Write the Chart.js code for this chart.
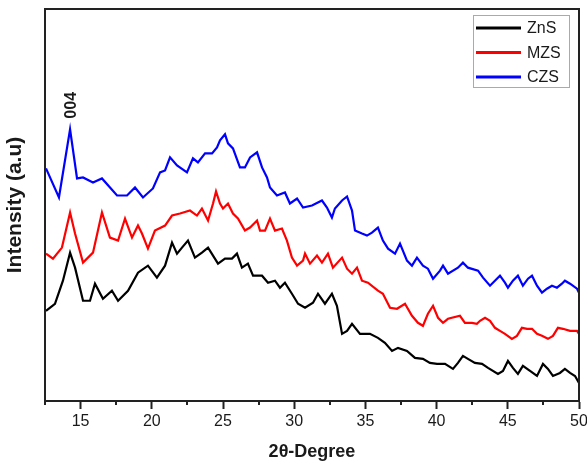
<!DOCTYPE html>
<html>
<head>
<meta charset="utf-8">
<script src="https://cdn.jsdelivr.net/npm/chart.js@4.4.0/dist/chart.umd.min.js"></script>
<style>
  html, body { margin: 0; padding: 0; background: #fff; }
  #wrap { width: 587px; height: 464px; }
</style>
</head>
<body>
<div id="wrap"><canvas id="xrd"></canvas></div>
<script>
// series names / colours
const seriesNames = ['ZnS', 'MZS', 'CZS'];
const seriesColors = ['#000000', '#ff0000', '#0000ff'];
const majorTicks = [15, 20, 25, 30, 35, 40, 45, 50];
const minorTicks = [12.5, 17.5, 22.5, 27.5, 32.5, 37.5, 42.5, 47.5];
const peakLabel = '004';
const peakAngle = 14.26;

// ZnS
const znsAngle = [12.57, 13.20, 13.76, 14.26, 14.61, 15.17, 15.66, 16.01, 16.57, 17.20, 17.63, 18.33, 19.03, 19.73, 20.36, 20.93, 21.42, 21.77, 22.12, 22.54, 23.03, 23.52, 23.95, 24.65, 25.14, 25.63, 25.98, 26.33, 26.75, 27.11, 27.74, 28.16, 28.65, 29.00, 29.35, 29.84, 30.27, 30.76, 31.32, 31.67, 32.16, 32.65, 33.00, 33.36, 33.71, 34.06, 34.62, 35.32, 35.88, 36.37, 36.87, 37.29, 37.92, 38.48, 39.04, 39.53, 40.03, 40.59, 41.15, 41.50, 41.85, 42.20, 42.69, 43.19, 43.61, 44.31, 44.66, 45.01, 45.36, 45.71, 46.06, 46.56, 47.05, 47.47, 47.82, 48.17, 48.66, 49.01, 49.37, 49.72, 50.00];
const znsCounts = [92, 99, 122, 150, 135, 102, 102, 119, 104, 112, 102, 112, 130, 137, 125, 137, 160, 149, 155, 162, 145, 150, 155, 139, 144, 144, 149, 135, 139, 127, 127, 120, 122, 115, 120, 109, 99, 95, 100, 109, 99, 109, 97, 69, 72, 79, 69, 69, 65, 60, 52, 55, 52, 45, 44, 40, 39, 39, 34, 40, 47, 44, 40, 39, 35, 29, 32, 42, 35, 29, 37, 32, 27, 39, 34, 27, 30, 34, 30, 27, 20];

// MZS
const mzsAngle = [12.57, 13.06, 13.69, 14.26, 14.61, 15.17, 15.87, 16.50, 17.06, 17.63, 18.12, 18.61, 19.03, 19.31, 19.73, 20.22, 20.93, 21.42, 21.98, 22.68, 23.17, 23.52, 23.95, 24.30, 24.51, 24.79, 25.00, 25.35, 25.70, 26.05, 26.54, 26.90, 27.39, 27.60, 27.95, 28.30, 28.65, 29.14, 29.49, 29.84, 30.20, 30.62, 30.76, 31.11, 31.60, 31.95, 32.37, 32.72, 33.36, 33.71, 34.06, 34.41, 34.76, 35.18, 35.88, 36.23, 36.73, 37.22, 37.78, 38.27, 38.69, 39.04, 39.39, 39.75, 40.10, 40.45, 40.80, 41.64, 41.99, 42.48, 42.83, 43.05, 43.40, 43.75, 44.10, 44.45, 44.80, 45.29, 45.64, 45.99, 46.35, 46.70, 47.05, 47.40, 47.82, 48.17, 48.52, 48.87, 49.37, 49.86, 50.00];
const mzsCounts = [149, 144, 155, 190, 169, 140, 150, 190, 165, 162, 184, 165, 177, 169, 154, 172, 177, 187, 189, 192, 187, 194, 182, 199, 211, 199, 194, 199, 189, 184, 172, 175, 182, 172, 172, 184, 172, 174, 162, 145, 137, 142, 149, 139, 147, 140, 149, 135, 145, 134, 129, 135, 122, 120, 112, 109, 95, 94, 99, 87, 80, 77, 89, 97, 85, 80, 84, 87, 80, 80, 79, 82, 85, 82, 75, 72, 69, 64, 67, 75, 74, 74, 69, 67, 64, 67, 75, 74, 72, 72, 69];

// CZS
const czsAngle = [12.57, 13.48, 14.26, 14.75, 15.17, 15.87, 16.50, 17.56, 18.26, 18.82, 19.38, 20.08, 20.58, 20.93, 21.28, 21.77, 22.47, 22.89, 23.24, 23.74, 24.23, 24.58, 24.79, 25.14, 25.35, 25.70, 26.19, 26.54, 26.90, 27.39, 27.74, 28.09, 28.30, 28.79, 29.35, 29.70, 30.20, 30.62, 31.25, 31.95, 32.30, 32.65, 32.86, 33.36, 33.71, 34.06, 34.27, 34.76, 35.11, 35.46, 35.88, 36.23, 36.59, 37.08, 37.43, 37.92, 38.27, 38.62, 39.04, 39.39, 39.75, 40.24, 40.45, 40.80, 41.50, 41.85, 42.20, 42.91, 43.26, 43.75, 44.45, 44.80, 45.01, 45.36, 45.71, 46.06, 46.42, 46.70, 47.05, 47.40, 47.75, 48.10, 48.45, 48.80, 49.01, 49.37, 49.86, 50.00];
const czsCounts = [234, 205, 273, 224, 225, 220, 224, 207, 207, 215, 205, 214, 230, 232, 245, 237, 230, 244, 240, 249, 249, 255, 262, 268, 259, 254, 235, 235, 245, 250, 235, 225, 215, 207, 210, 199, 204, 195, 197, 202, 195, 185, 194, 202, 206, 192, 172, 169, 167, 170, 175, 162, 154, 149, 159, 142, 137, 145, 137, 134, 124, 132, 137, 129, 135, 140, 135, 132, 125, 117, 127, 120, 115, 122, 127, 117, 124, 127, 117, 110, 114, 117, 115, 119, 122, 119, 114, 110];

const angles = [znsAngle, mzsAngle, czsAngle];
const counts = [znsCounts, mzsCounts, czsCounts];

const textColor = '#1a1a1a';
const FONT = '"Liberation Sans", Arial, sans-serif';

const datasets = seriesNames.map((name, i) => ({
  label: name,
  data: angles[i].map((a, j) => ({ x: a, y: counts[i][j] })),
  borderColor: seriesColors[i],
  backgroundColor: seriesColors[i],
  borderWidth: 2.2,
  pointRadius: 0,
  tension: 0,
  fill: false
}));

// frame, minor ticks, peak label and boxed legend
const extras = {
  id: 'extras',
  afterDraw(chart) {
    const c = chart.ctx;
    const a = chart.chartArea;
    const xs = chart.scales.x;
    const ys = chart.scales.y;
    c.save();
    c.strokeStyle = '#222';
    c.lineWidth = 2;
    c.strokeRect(a.left, a.top, a.right - a.left, a.bottom - a.top);

    minorTicks.forEach(t => {
      const px = Math.round(xs.getPixelForValue(t));
      c.beginPath();
      c.moveTo(px, a.bottom);
      c.lineTo(px, a.bottom + 4);
      c.stroke();
    });

    // 004 label
    const peakIdx = czsAngle.indexOf(peakAngle);
    const px = xs.getPixelForValue(peakAngle);
    const py = ys.getPixelForValue(czsCounts[peakIdx]);
    c.translate(px + 2, py - 24);
    c.rotate(-Math.PI / 2);
    c.fillStyle = textColor;
    c.font = 'bold 16px ' + FONT;
    c.textAlign = 'center';
    c.textBaseline = 'middle';
    c.fillText(peakLabel, 0, 0);
    c.setTransform(1, 0, 0, 1, 0, 0);

    // legend
    const bx = 473, by = 15, bw = 96, bh = 72;
    c.fillStyle = '#fff';
    c.fillRect(bx, by, bw, bh);
    c.strokeStyle = '#aaa';
    c.lineWidth = 1;
    c.strokeRect(bx + 0.5, by + 0.5, bw, bh);
    c.font = '16px ' + FONT;
    c.textAlign = 'left';
    c.textBaseline = 'middle';
    seriesNames.forEach((name, i) => {
      const ry = by + 13 + i * 24.5;
      c.strokeStyle = seriesColors[i];
      c.lineWidth = 3;
      c.beginPath();
      c.moveTo(bx + 3, ry);
      c.lineTo(bx + 48, ry);
      c.stroke();
      c.fillStyle = textColor;
      c.fillText(name, bx + 54, ry + 1);
    });
    c.restore();
  }
};

new Chart(document.getElementById('xrd'), {
  type: 'line',
  data: { datasets: datasets },
  options: {
    responsive: true,
    maintainAspectRatio: false,
    animation: false,
    layout: { padding: { top: 9, right: 8, left: 0, bottom: 0 } },
    plugins: {
      legend: { display: false },
      tooltip: { enabled: false }
    },
    scales: {
      x: {
        type: 'linear',
        min: 12.5,
        max: 50,
        afterFit: s => { s.height = 63; s.paddingRight = 0; s.paddingLeft = 0; },
        afterBuildTicks: s => { s.ticks = majorTicks.map(v => ({ value: v })); },
        ticks: {
          color: textColor,
          font: { family: FONT, size: 16 },
          padding: 3,
          maxRotation: 0,
          autoSkip: false
        },
        grid: {
          drawOnChartArea: false,
          drawTicks: true,
          tickLength: 8,
          tickWidth: 2,
          tickColor: '#222'
        },
        border: { color: '#222', width: 2 },
        title: {
          display: true,
          text: '2θ-Degree',
          color: textColor,
          font: { family: FONT, size: 18, weight: 'bold' },
          padding: { top: 0, bottom: 1 }
        }
      },
      y: {
        min: 2,
        max: 393,
        afterFit: s => { s.width = 45; },
        ticks: { display: false },
        grid: { display: false, drawTicks: false },
        border: { color: '#222', width: 2 },
        title: {
          display: true,
          text: 'Intensity (a.u)',
          color: textColor,
          font: { family: FONT, size: 21, weight: 'bold' },
          padding: { top: 3, bottom: 0 }
        }
      }
    }
  },
  plugins: [extras]
});
</script>
</body>
</html>
